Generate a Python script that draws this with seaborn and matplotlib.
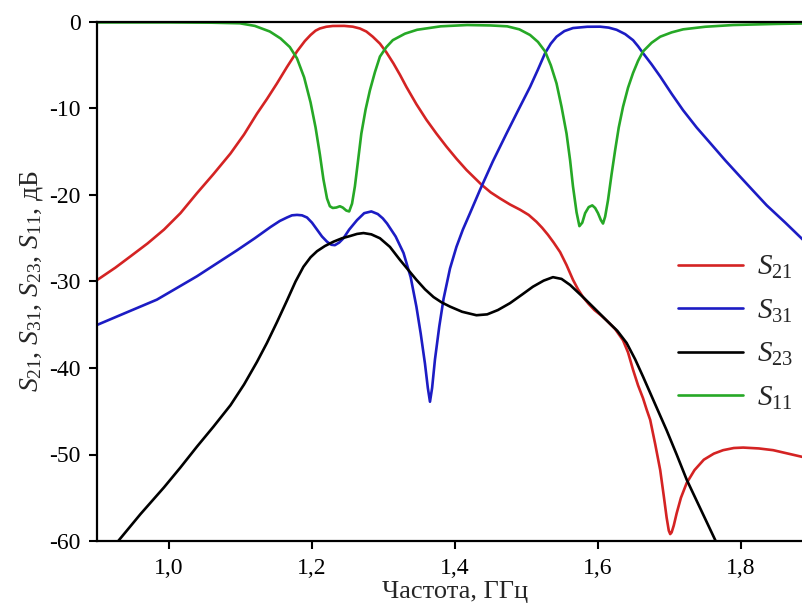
import matplotlib
matplotlib.use("Agg")
import matplotlib.pyplot as plt
import seaborn as sns

# S21 transmission, GHz / dB
freq_s21 = [0.900, 0.925, 0.946, 0.970, 0.993, 1.016, 1.039, 1.062, 1.086, 1.105,
            1.123, 1.137, 1.151, 1.165, 1.179, 1.190, 1.198, 1.205, 1.211, 1.220,
            1.229, 1.245, 1.257, 1.267, 1.276, 1.285, 1.295, 1.304, 1.314, 1.323,
            1.332, 1.346, 1.360, 1.374, 1.388, 1.402, 1.416, 1.437, 1.450, 1.463,
            1.477, 1.491, 1.503, 1.514, 1.522, 1.530, 1.538, 1.547, 1.556, 1.565,
            1.572, 1.579, 1.587, 1.595, 1.604, 1.612, 1.624, 1.635, 1.642, 1.649,
            1.656, 1.663, 1.668, 1.673, 1.680, 1.687, 1.692, 1.696, 1.699, 1.701,
            1.703, 1.706, 1.710, 1.716, 1.724, 1.735, 1.748, 1.762, 1.775, 1.790,
            1.803, 1.825, 1.845, 1.866, 1.887, 1.900]
db_s21 = [-29.8, -28.4, -27.1, -25.6, -24.0, -22.1, -19.8, -17.6, -15.2, -13.0,
          -10.6, -8.9, -7.1, -5.2, -3.4, -2.2, -1.5, -1.0, -0.75, -0.55,
          -0.46, -0.45, -0.54, -0.75, -1.1, -1.7, -2.5, -3.5, -4.8, -6.1,
          -7.5, -9.5, -11.3, -12.9, -14.4, -15.8, -17.1, -18.8, -19.7, -20.4,
          -21.1, -21.7, -22.3, -23.1, -23.8, -24.6, -25.5, -26.6, -28.1, -29.8,
          -30.9, -31.8, -32.6, -33.3, -33.9, -34.5, -35.5, -36.8, -38.2, -40.2,
          -42.0, -43.5, -44.8, -46.0, -48.8, -51.8, -54.8, -57.3, -58.8, -59.2,
          -59.0, -58.2, -56.8, -55.0, -53.3, -51.8, -50.6, -49.9, -49.5, -49.25,
          -49.2, -49.3, -49.5, -49.9, -50.3, -50.6]

# S31 transmission
freq_s31 = [0.900, 0.940, 0.983, 1.010, 1.039, 1.067, 1.095, 1.120, 1.142, 1.155,
            1.165, 1.172, 1.179, 1.186, 1.193, 1.200, 1.207, 1.214, 1.221, 1.227,
            1.232, 1.238, 1.244, 1.252, 1.263, 1.273, 1.283, 1.292, 1.299, 1.305,
            1.317, 1.328, 1.338, 1.346, 1.352, 1.358, 1.362, 1.365, 1.368, 1.372,
            1.378, 1.384, 1.393, 1.402, 1.411, 1.421, 1.435, 1.453, 1.472, 1.489,
            1.505, 1.516, 1.526, 1.534, 1.542, 1.553, 1.565, 1.585, 1.603, 1.615,
            1.626, 1.638, 1.649, 1.656, 1.663, 1.675, 1.687, 1.703, 1.719, 1.738,
            1.757, 1.778, 1.799, 1.818, 1.836, 1.862, 1.887, 1.900]
db_s31 = [-35.0, -33.6, -32.1, -30.8, -29.4, -27.9, -26.4, -25.0, -23.7, -23.0,
          -22.6, -22.35, -22.3, -22.35, -22.6, -23.2, -24.0, -24.8, -25.4, -25.75,
          -25.8, -25.5, -25.0, -24.0, -22.9, -22.1, -21.9, -22.2, -22.7, -23.3,
          -24.8, -26.7, -29.5, -32.9, -36.0, -39.5, -42.3, -43.9, -42.3, -39.0,
          -35.2, -32.0, -28.5, -26.0, -24.0, -22.1, -19.4, -16.1, -12.9, -10.1,
          -7.5, -5.5, -3.6, -2.5, -1.7, -1.05, -0.7, -0.55, -0.54, -0.65,
          -0.9, -1.4, -2.1, -2.8, -3.6, -4.9, -6.3, -8.3, -10.2, -12.2,
          -14.0, -16.0, -17.9, -19.6, -21.2, -23.2, -25.2, -26.1]

# S23 isolation
freq_s23 = [0.915, 0.930, 0.960, 0.993, 1.016, 1.039, 1.062, 1.086, 1.105, 1.123,
            1.137, 1.151, 1.165, 1.177, 1.188, 1.198, 1.207, 1.218, 1.230, 1.242,
            1.253, 1.263, 1.272, 1.283, 1.295, 1.309, 1.323, 1.335, 1.346, 1.358,
            1.370, 1.381, 1.393, 1.410, 1.430, 1.445, 1.460, 1.477, 1.494, 1.509,
            1.524, 1.537, 1.549, 1.561, 1.570, 1.579, 1.595, 1.612, 1.627, 1.640,
            1.652, 1.663, 1.680, 1.696, 1.710, 1.724, 1.744, 1.764, 1.775]
db_s23 = [-61.5, -59.9, -56.9, -53.8, -51.5, -49.1, -46.8, -44.3, -41.9, -39.3,
          -37.1, -34.7, -32.2, -30.0, -28.3, -27.2, -26.5, -25.9, -25.4, -25.0,
          -24.75, -24.5, -24.4, -24.55, -25.0, -26.0, -27.5, -28.7, -29.8, -30.9,
          -31.8, -32.4, -32.9, -33.5, -33.9, -33.8, -33.3, -32.5, -31.5, -30.6,
          -29.9, -29.5, -29.7, -30.4, -31.1, -31.8, -33.1, -34.5, -35.7, -37.1,
          -39.0, -41.0, -44.2, -47.2, -50.0, -52.9, -56.4, -59.9, -61.8]

# S11 reflection
freq_s11 = [0.900, 1.000, 1.060, 1.099, 1.120, 1.141, 1.156, 1.169, 1.179, 1.189,
            1.198, 1.205, 1.211, 1.216, 1.221, 1.225, 1.229, 1.234, 1.239, 1.243,
            1.248, 1.252, 1.256, 1.260, 1.264, 1.269, 1.275, 1.281, 1.288, 1.295,
            1.304, 1.313, 1.330, 1.347, 1.380, 1.417, 1.450, 1.473, 1.490, 1.505,
            1.516, 1.526, 1.534, 1.542, 1.549, 1.556, 1.561, 1.565, 1.570, 1.574,
            1.578, 1.582, 1.587, 1.592, 1.596, 1.600, 1.604, 1.607, 1.610, 1.614,
            1.619, 1.624, 1.629, 1.635, 1.642, 1.649, 1.656, 1.663, 1.675, 1.687,
            1.703, 1.719, 1.750, 1.789, 1.850, 1.900]
db_s11 = [-0.05, -0.05, -0.08, -0.15, -0.45, -1.1, -1.9, -2.9, -4.2, -6.4,
          -9.3, -12.2, -15.3, -18.2, -20.4, -21.3, -21.5, -21.45, -21.3, -21.45,
          -21.8, -21.9, -21.0, -19.0, -16.3, -12.9, -10.1, -7.9, -5.8, -4.0,
          -2.9, -2.1, -1.35, -0.9, -0.5, -0.35, -0.4, -0.5, -0.85, -1.5,
          -2.3, -3.4, -5.0, -7.1, -9.8, -12.9, -16.0, -19.0, -22.0, -23.6,
          -23.2, -22.1, -21.4, -21.2, -21.5, -22.1, -22.9, -23.3, -22.5, -20.6,
          -17.6, -14.8, -12.2, -9.8, -7.6, -5.9, -4.5, -3.4, -2.4, -1.7,
          -1.2, -0.85, -0.55, -0.35, -0.22, -0.15]

series_labels = [r"$S_{21}$", r"$S_{31}$", r"$S_{23}$", r"$S_{11}$"]
series_colors = ["#d42323", "#1c1cc4", "#000000", "#26a826"]

x_ticks = [1.0, 1.2, 1.4, 1.6, 1.8]
x_tick_labels = ["1,0", "1,2", "1,4", "1,6", "1,8"]
y_ticks = [0, -10, -20, -30, -40, -50, -60]
y_tick_labels = ["0", "-10", "-20", "-30", "-40", "-50", "-60"]

x_label = "Частота, ГГц"
y_label = r"$S_{21}$, $S_{31}$, $S_{23}$, $S_{11}$, дБ"

sns.set_style("ticks")
plt.rcParams.update({
    "font.family": ["Liberation Serif", "DejaVu Serif"],
    "mathtext.fontset": "custom",
    "mathtext.rm": "Liberation Serif",
    "mathtext.it": "Liberation Serif:italic",
    "axes.unicode_minus": False,
    "axes.linewidth": 1.6,
    "axes.edgecolor": "black",
})

W, H = 803, 614
fig = plt.figure(figsize=(W / 100, H / 100), dpi=100)
ax = fig.add_axes([97.5 / W, 1 - 541 / H, 715 / W, 519 / H])

curves = [(freq_s21, db_s21), (freq_s31, db_s31), (freq_s23, db_s23), (freq_s11, db_s11)]
for (f, d), lab, col in zip(curves, series_labels, series_colors):
    sns.lineplot(x=f, y=d, color=col, linewidth=1.9, label=lab, ax=ax,
                 estimator=None, sort=False)

ax.set_xlim(0.9, 1.9)
ax.set_ylim(-60, 0)
ax.set_xticks(x_ticks)
ax.set_xticklabels(x_tick_labels)
ax.set_yticks(y_ticks)
ax.set_yticklabels(y_tick_labels)
ax.tick_params(axis="both", direction="out", length=6, width=1.5,
               labelsize=17, colors="black", pad=6)
for side in ["top", "left", "bottom", "right"]:
    ax.spines[side].set_visible(True)
    ax.spines[side].set_color("black")

ax.set_xlabel(x_label, fontsize=19, labelpad=2)
ax.set_ylabel(y_label, fontsize=20, labelpad=3)

ax.legend(loc="upper left", bbox_to_anchor=(678 / W, 1 - 254 / H),
          bbox_transform=fig.transFigure, frameon=False, fontsize=21,
          handlelength=2.23, handletextpad=0.48, labelspacing=0.56,
          borderpad=0, borderaxespad=0)

fig.savefig("out.png", dpi=100)
